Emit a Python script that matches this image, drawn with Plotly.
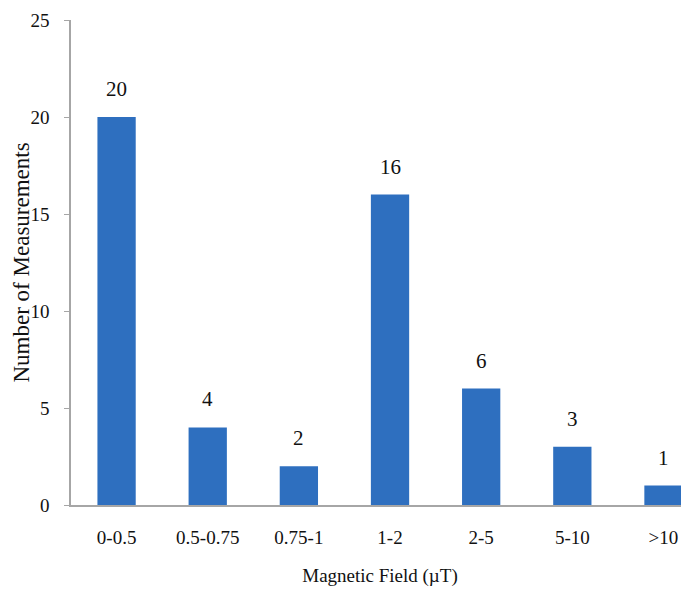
import plotly.graph_objects as go

categories = ["0-0.5", "0.5-0.75", "0.75-1", "1-2", "2-5", "5-10", ">10"]
counts = [20, 4, 2, 16, 6, 3, 1]
y_ticks = [0, 5, 10, 15, 20, 25]

bar_color = "#2E6FBF"
font_family = "Liberation Serif, Times New Roman, serif"

fig = go.Figure()
fig.add_trace(go.Bar(
    x=categories, y=counts,
    marker=dict(color=bar_color, line=dict(width=0)),
    width=0.42,
))

for c, v in zip(categories, counts):
    fig.add_annotation(x=c, y=v, text=str(v), showarrow=False,
                       yanchor="bottom", yshift=14,
                       font=dict(family=font_family, size=21, color="#111"))

fig.add_annotation(xref="paper", yref="paper", x=0, y=0.5,
                   xanchor="center", yanchor="middle", xshift=-50,
                   textangle=-90, showarrow=False, borderpad=0,
                   text="Number of Measurements",
                   font=dict(family=font_family, size=23, color="#111"))

fig.update_layout(
    width=681, height=591,
    margin=dict(l=63, r=0, t=12, b=94),
    plot_bgcolor="white", paper_bgcolor="white",
    showlegend=False,
    font=dict(family=font_family, size=18, color="#111"),
    xaxis=dict(
        range=[-0.5, 6.28],
        showline=True, linecolor="#A6A6A6", linewidth=1.5,
        ticks="", showgrid=False,
        tickfont=dict(size=19),
        ticklabelstandoff=14,
        title=dict(text="Magnetic Field (µT)", font=dict(size=19), standoff=22),
    ),
    yaxis=dict(
        range=[0, 25], tickvals=y_ticks,
        showline=True, linecolor="#A6A6A6", linewidth=1.5,
        ticks="outside", ticklen=5, tickcolor="#A6A6A6",
        showgrid=False, zeroline=False,
        tickfont=dict(size=19),
        ticklabelstandoff=11,
    ),
)

fig.write_html("out.html")
